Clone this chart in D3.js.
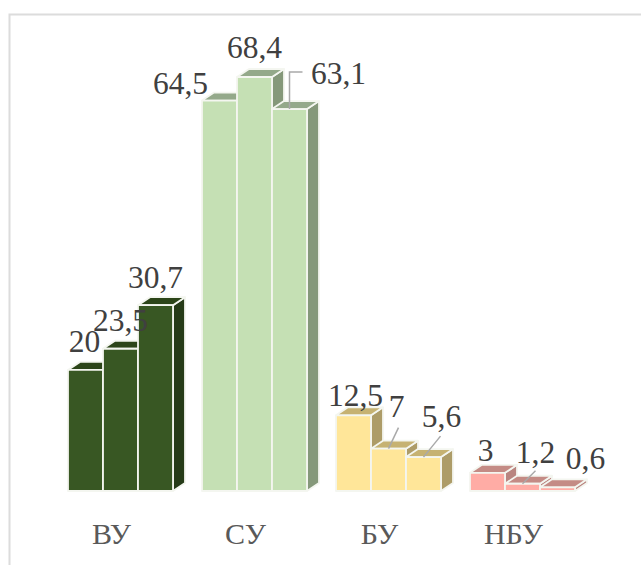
<!DOCTYPE html>
<html><head><meta charset="utf-8">
<script src="https://cdn.jsdelivr.net/npm/d3@7"></script>
<style>html,body{margin:0;padding:0;background:#fff;overflow:hidden}svg{display:block}</style>
</head><body>
<script>
const categories = ["ВУ","СУ","БУ","НБУ"];
const seriesIndex = [0,1,2];
const values = [
  [20,23.5,30.7],
  [64.5,68.4,63.1],
  [12.5,7,5.6],
  [3,1.2,0.6]
];
const valueLabels = [
  ["20","23,5","30,7"],
  ["64,5","68,4","63,1"],
  ["12,5","7","5,6"],
  ["3","1,2","0,6"]
];
const frontColors = ["#385723","#c5e0b4","#ffe699","#ffaca5"];
const sideColors  = ["#263b18","#85987a","#ad9c68","#b98580"];
const topColors   = ["#2c4519","#94a98a","#c6b272","#c48b85"];

const W=641,H=565;
const svg=d3.select("body").append("svg").attr("width",W).attr("height",H);
// frame
svg.append("path").attr("d","M9.5,565V14.5H641").attr("fill","none").attr("stroke","#dcdcdc").attr("stroke-width",2);

const x0=d3.scaleBand().domain(categories).range([34,570]).paddingInner(0).paddingOuter(0);
const x1=d3.scaleBand().domain(seriesIndex).range([34,139]);
const y=d3.scaleLinear().domain([0,68.4]).range([491,77]);
const dx=12,dy=-8,font="'Liberation Serif','Times New Roman',serif";

categories.forEach((c,g)=>{
  const G=svg.append("g").attr("transform",`translate(${x0(c)},0)`);
  seriesIndex.forEach(s=>{
    const l=x1(s), r=l+x1.bandwidth(), t=y(values[g][s]), b=y(0);
    const st={stroke:"#f4f6f0","stroke-width":1.8,"stroke-linejoin":"round"};
    const p=(d,f)=>{const e=G.append("path").attr("d",d).attr("fill",f);for(const k in st)e.attr(k,st[k]);};
    p(`M${r},${t}L${r+dx},${t+dy}V${b+dy}L${r},${b}Z`,sideColors[g]);
    p(`M${l},${t}L${l+dx},${t+dy}H${r+dx}L${r},${t}Z`,topColors[g]);
    p(`M${l},${t}H${r}V${b}H${l}Z`,frontColors[g]);
  });
});

// label offsets relative to bar front-top-centre
const placement={
 "0,0":[-1,-18],"0,1":[0,-18],"0,2":[0,-17],
 "1,0":[-39,-7],"1,1":[0,-19],"1,2":[49,-25],
 "2,0":[2,-9],"2,1":[8,-32],"2,2":[18,-30],
 "3,0":[-2,-12],"3,1":[13,-21],"3,2":[28,-18]
};
const leaders=[
 {g:1,s:2,pts:[[0,0],[0,-37],[13,-37]]},
 {g:2,s:1,pts:[[0,0],[10,-21]]},
 {g:2,s:2,pts:[[0,0],[17,-21]]},
 {g:3,s:1,pts:[[0,0],[13,-13]]}
];
const line=d3.line();
leaders.forEach(L=>{
  const c=x0(categories[L.g])+x1(L.s)+x1.bandwidth()/2, t=y(values[L.g][L.s]);
  svg.append("path").attr("d",line(L.pts.map(q=>[c+q[0],t+q[1]])))
    .attr("fill","none").attr("stroke","#a9a9a9").attr("stroke-width",1.5);
});
categories.forEach((c,g)=>seriesIndex.forEach(s=>{
  const o=placement[g+","+s];
  svg.append("text").attr("x",x0(c)+x1(s)+x1.bandwidth()/2+o[0]).attr("y",y(values[g][s])+o[1])
    .attr("text-anchor","middle").attr("font-family",font).attr("font-size",31.5)
    .attr("fill","#404040").text(valueLabels[g][s]);
}));
categories.forEach(c=>{
  svg.append("text").attr("x",x0(c)+x0.bandwidth()/2+10.5).attr("y",544)
    .attr("text-anchor","middle").attr("font-family",font).attr("font-size",30)
    .attr("fill","#595959").text(c);
});
</script>
</body></html>
